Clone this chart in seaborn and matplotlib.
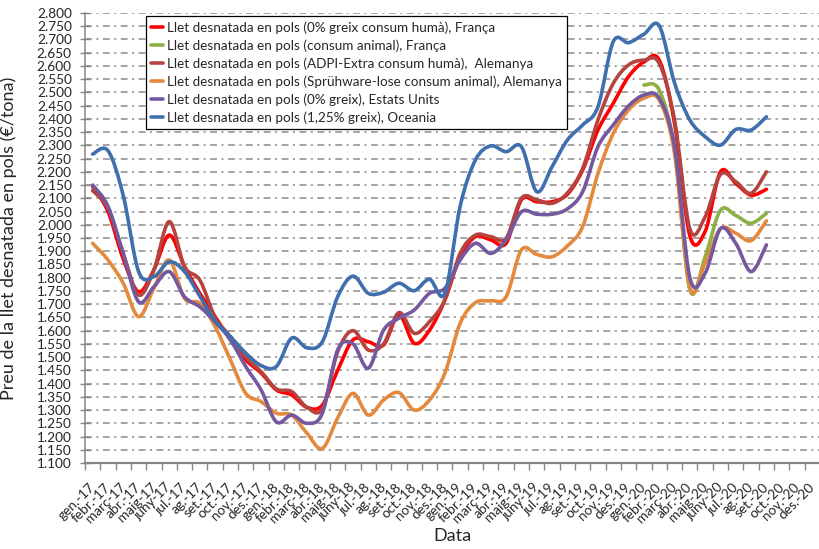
import numpy as np
import pandas as pd
import matplotlib
matplotlib.use("Agg")
import matplotlib.pyplot as plt
from matplotlib.path import Path
from matplotlib.patches import PathPatch
from matplotlib.lines import Line2D
from matplotlib.ticker import FormatStrFormatter, FixedLocator
import matplotlib.transforms as mtransforms
import seaborn as sns

# ---------------- data ----------------
month_names = ["gen.", "febr.", "març", "abr.", "maig", "juny",
               "jul.", "ag.", "set.", "oct.", "nov.", "des."]
years = ["17", "18", "19", "20"]
tick_labels = [f"{m}-{y}" for y in years for m in month_names]

nan = np.nan
franca_huma = [2.145, 2.05, 1.87, 1.747, 1.83, 1.961, 1.842, 1.741, 1.653, 1.565,
               1.489, 1.44, 1.376, 1.357, 1.31, 1.319, 1.45, 1.565, 1.558, 1.546,
               1.659, 1.552, 1.602, 1.716, 1.879, 1.955, 1.943, 1.93, 2.094, 2.087,
               2.087, 2.115, 2.207, 2.358, 2.459, 2.56, 2.615, 2.622, 2.383, 1.958,
               1.975, 2.20, 2.156, 2.112, 2.134]
franca_animal = [nan] * 36 + [2.528, 2.509, 2.282, 1.755, 1.879, 2.055, 2.035, 2.006, 2.043]
alemanya_adpi = [2.129, 2.062, 1.892, 1.735, 1.829, 2.012, 1.842, 1.791, 1.65, 1.577,
                 1.50, 1.445, 1.38, 1.37, 1.31, 1.306, 1.52, 1.60, 1.527, 1.55,
                 1.668, 1.59, 1.634, 1.716, 1.892, 1.961, 1.955, 1.949, 2.10, 2.094,
                 2.081, 2.12, 2.213, 2.396, 2.534, 2.604, 2.622, 2.61, 2.396, 1.985,
                 2.03, 2.19, 2.163, 2.119, 2.20]
alemanya_spruh = [1.93, 1.867, 1.779, 1.653, 1.76, 1.867, 1.722, 1.703, 1.615, 1.489,
                  1.363, 1.332, 1.288, 1.281, 1.212, 1.155, 1.27, 1.363, 1.281, 1.338,
                  1.366, 1.30, 1.338, 1.439, 1.628, 1.706, 1.713, 1.728, 1.905, 1.888,
                  1.879, 1.92, 1.993, 2.194, 2.345, 2.434, 2.478, 2.471, 2.27, 1.762,
                  1.855, 1.985, 1.968, 1.94, 2.015]
estats_units = [2.15, 2.07, 1.89, 1.709, 1.766, 1.823, 1.728, 1.69, 1.634, 1.565,
                1.464, 1.376, 1.255, 1.281, 1.25, 1.288, 1.527, 1.55, 1.458, 1.602,
                1.647, 1.678, 1.741, 1.76, 1.867, 1.93, 1.892, 1.943, 2.049, 2.04,
                2.04, 2.06, 2.125, 2.295, 2.377, 2.449, 2.49, 2.478, 2.295, 1.80,
                1.817, 1.985, 1.93, 1.823, 1.924]
oceania = [2.267, 2.28, 2.11, 1.823, 1.804, 1.86, 1.823, 1.73, 1.635, 1.577,
           1.515, 1.468, 1.465, 1.572, 1.535, 1.558, 1.728, 1.806, 1.741, 1.745,
           1.779, 1.751, 1.794, 1.741, 2.07, 2.245, 2.298, 2.276, 2.295, 2.125,
           2.219, 2.32, 2.377, 2.446, 2.692, 2.688, 2.72, 2.752, 2.536, 2.396,
           2.333, 2.301, 2.36, 2.358, 2.408]

series_names = [
    "Llet desnatada en pols (0% greix consum humà), França",
    "Llet desnatada en pols (consum animal), França",
    "Llet desnatada en pols (ADPI-Extra consum humà),  Alemanya",
    "Llet desnatada en pols (Sprühware-lose consum animal), Alemanya",
    "Llet desnatada en pols (0% greix), Estats Units",
    "Llet desnatada en pols (1,25% greix), Oceania",
]
series_values = [franca_huma, franca_animal, alemanya_adpi, alemanya_spruh,
                 estats_units, oceania]
colors = ["#FF0000", "#8DB045", "#B5443F", "#E58A3C", "#7559A0", "#3F6FAE"]

# ---------------- figure ----------------
sns.set_theme(style="white")
plt.rcParams['font.family'] = ['Lato', 'DejaVu Sans']

fig = plt.figure(figsize=(8.2, 5.49), dpi=100)
ax = fig.add_axes([85 / 820, 1 - 463 / 549, (820 - 85) / 820, 450 / 549])

df = pd.DataFrame({"mes": np.arange(len(oceania))})
for name, vals in zip(series_names, series_values):
    df[name] = vals
long = df.melt(id_vars="mes", var_name="serie", value_name="preu").dropna()

sns.lineplot(data=long, x="mes", y="preu", hue="serie", hue_order=series_names,
             palette=colors, linewidth=2.6, legend=False, ax=ax, sort=True)


def smooth_path(x, y):
    pts = np.column_stack([x, y])
    n = len(pts)
    verts = [pts[0]]
    codes = [Path.MOVETO]
    for i in range(n - 1):
        p0 = pts[i - 1] if i > 0 else pts[i]
        p1 = pts[i]
        p2 = pts[i + 1]
        p3 = pts[i + 2] if i + 2 < n else pts[i + 1]
        c1 = p1 + (p2 - p0) / 6.0
        c2 = p2 - (p3 - p1) / 6.0
        verts += [c1, c2, p2]
        codes += [Path.CURVE4] * 3
    return Path(verts, codes)


# Excel-like smoothed rendering of the seaborn lines
for k, line in enumerate(list(ax.lines)):
    xd, yd = line.get_xdata(), line.get_ydata()
    patch = PathPatch(smooth_path(np.asarray(xd, float), np.asarray(yd, float)),
                      facecolor="none", edgecolor=line.get_color(),
                      linewidth=2.6, capstyle="round", joinstyle="round",
                      zorder=3 + k)
    ax.add_patch(patch)
    line.set_visible(False)

# axes
ax.set_xlim(-0.5, 47.5)
ax.set_ylim(1.1, 2.8)
ax.set_yticks(np.round(np.arange(1.1, 2.8001, 0.05), 3))
ax.yaxis.set_major_formatter(FormatStrFormatter('%.3f'))
ax.yaxis.grid(True, color="#8c8c8c", linewidth=1.1,
              linestyle=(0, (4.5, 2.9, 1.4, 2.9)))
ax.xaxis.grid(False)
ax.set_axisbelow(True)

ax.xaxis.set_major_locator(FixedLocator(np.arange(-0.5, 48, 1)))
ax.xaxis.set_minor_locator(FixedLocator(np.arange(48)))
ax.set_xticklabels([], minor=False)
ax.set_xticklabels(tick_labels, minor=True, rotation=45, ha="right",
                   rotation_mode="anchor", fontsize=9.8)
ax.tick_params(axis="x", which="major", direction="out", length=5, width=1,
               color="#868686", bottom=True)
ax.tick_params(axis="x", which="minor", length=0, pad=13)
ax.tick_params(axis="y", which="major", direction="inout", length=7, width=1,
               color="#868686", left=True, pad=6, labelsize=9.8)
offset = mtransforms.ScaledTranslation(-4 / 100, 0, fig.dpi_scale_trans)
for lab in ax.xaxis.get_minorticklabels():
    lab.set_transform(lab.get_transform() + offset)

for s in ["top", "right"]:
    ax.spines[s].set_visible(False)
ax.spines["left"].set_color("#868686")
ax.spines["left"].set_linewidth(1.1)
ax.spines["bottom"].set_color("#868686")
ax.spines["bottom"].set_linewidth(1.6)

ax.set_xlabel("Data", fontsize=13)
ax.set_ylabel("Preu de la llet desnatada en pols (€/tona)", fontsize=13)
ax.xaxis.set_label_coords(0.5, -0.145)
ax.yaxis.set_label_coords(-0.0925, 0.5)

handles = [Line2D([0], [0], color=c, lw=2.6) for c in colors]
leg = fig.legend(handles, series_names, loc="upper left",
                 bbox_to_anchor=(146 / 820, 1 - 16 / 549), frameon=True,
                 fancybox=False, edgecolor="black", framealpha=1,
                 fontsize=9.7, handlelength=0.85, handletextpad=0.3,
                 labelspacing=0.4, borderpad=0.4, borderaxespad=0)
leg.get_frame().set_linewidth(0.9)

fig.savefig("out.png", dpi=100)
